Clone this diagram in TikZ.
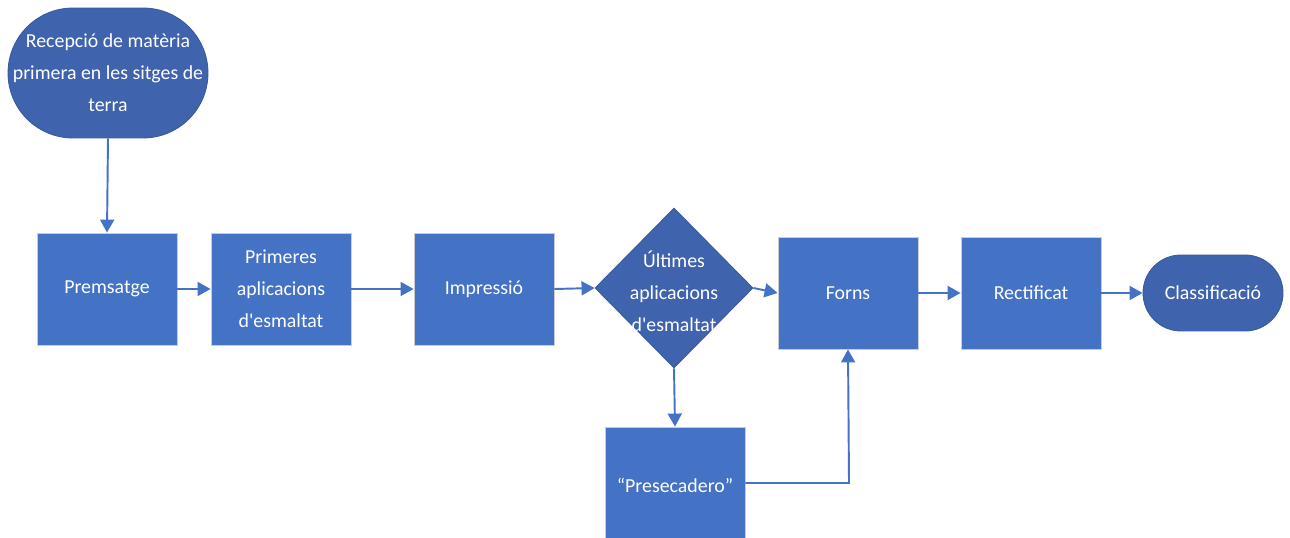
\documentclass[tikz,border=0pt]{standalone}
\usepackage{fontspec}
\setmainfont{Carlito}[Ligatures=TeXOff]
\usetikzlibrary{shapes.geometric,arrows.meta}
\definecolor{boxblue}{HTML}{4472C4}
\definecolor{darkblue}{HTML}{3F63AC}
\definecolor{edgegray}{HTML}{C9CCD2}
\definecolor{darkedge}{HTML}{3A5A9E}
\tikzset{
  txt/.style={text=white, align=center, font=\fontsize{11.3}{18.3}\selectfont},
  procbox/.style={txt, draw=edgegray, line width=0.5pt, fill=boxblue, minimum width=2.8cm, minimum height=2.24cm, inner sep=0pt},
  termbox/.style={txt, draw=darkedge, line width=0.5pt, fill=darkblue, inner sep=0pt},
  decbox/.style={diamond, draw=darkedge, line width=0.5pt, fill=darkblue, inner sep=0pt, minimum width=3.16cm, minimum height=3.2cm},
  flow/.style={draw=boxblue, line width=1.1pt, -{Triangle[length=0.26cm,width=0.28cm]}}
}
\begin{document}
\begin{tikzpicture}[x=0.02cm,y=-0.02cm]
\useasboundingbox (0,0) rectangle (1290,537);
\node[termbox, minimum width=4cm, minimum height=2.6cm, rounded corners=1.3cm] (rec) at (108,73) {Recepció de matèria\\primera en les sitges de\\terra};
\node[procbox] (prem) at (107,289) {Premsatge};
\node[procbox] (prim) at (281,289) {Primeres\\aplicacions\\d'esmaltat};
\node[procbox] (imp) at (484,289) {Impressió};
\node[decbox] (ult) at (674,288) {};
\node[txt] (ulttext) at (674,291) {Últimes\\aplicacions\\d'esmaltat};
\node[procbox] (forns) at (848,293) {Forns};
\node[procbox] (rect) at (1031,293) {Rectificat};
\node[termbox, minimum width=2.8cm, minimum height=1.52cm, rounded corners=0.76cm] (cla) at (1213,293) {Classificació};
\begin{scope}
\clip (0,0) rectangle (1290,537);
\node[procbox, minimum height=2.6cm] (pre) at (675,492) {};
\end{scope}
\node[txt] (pretext) at (675,485) {“Presecadero”};
\coordinate (corner) at (849,483);
\draw[flow] (rec.south) -- (prem.north);
\draw[flow] (prem.east) -- (prim.west);
\draw[flow] (prim.east) -- (imp.west);
\draw[flow] (imp.east) -- (ult.west);
\draw[flow] (ult.east) -- (forns.west);
\draw[flow] (forns.east) -- (rect.west);
\draw[flow] (rect.east) -- (cla.west);
\draw[flow] (ult.south) -- (pre.north);
\draw[flow] (pre.east |- corner) -- (corner) -- (forns.south);
\end{tikzpicture}
\end{document}
